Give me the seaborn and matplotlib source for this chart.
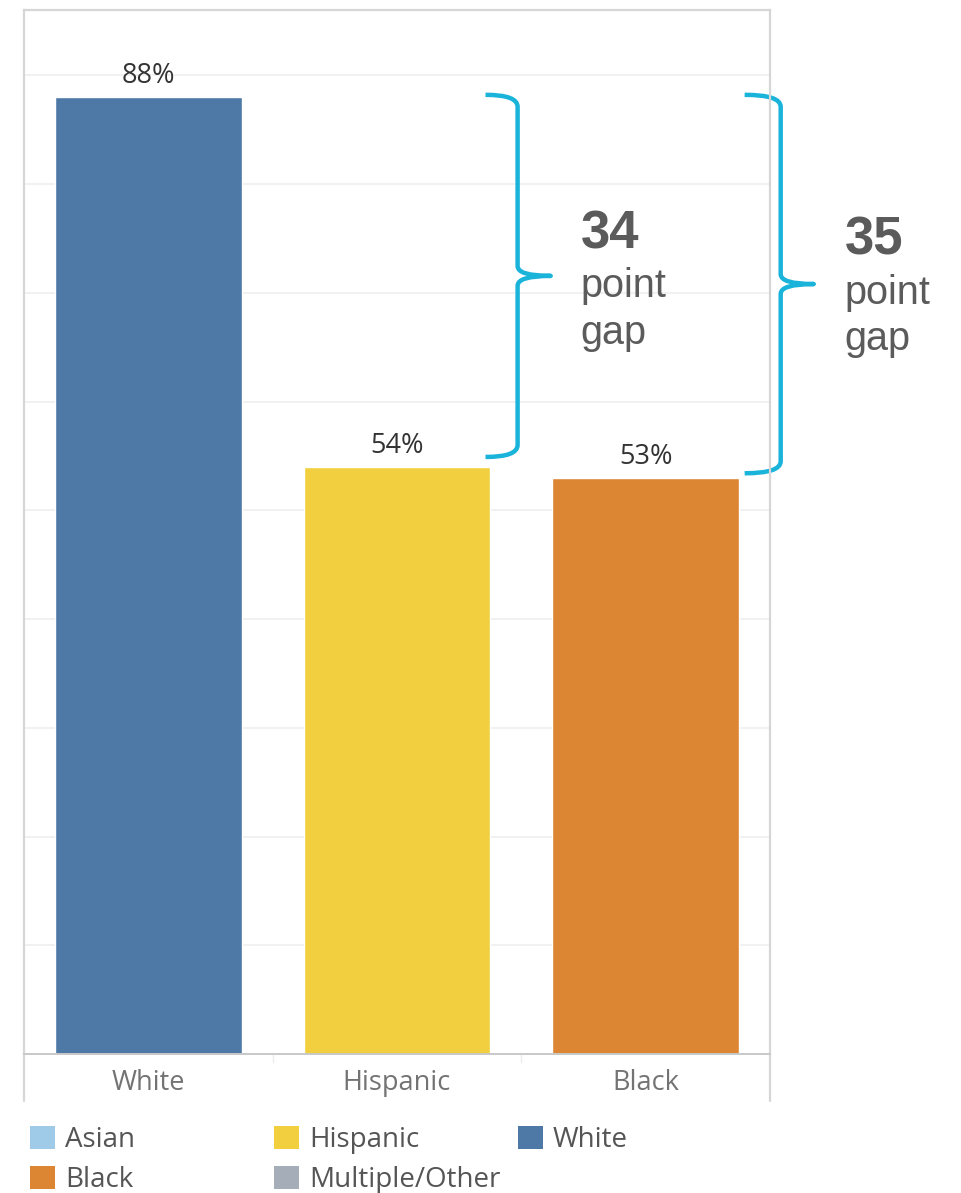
import matplotlib.pyplot as plt
import matplotlib.transforms as mtransforms
import pandas as pd
import seaborn as sns
from matplotlib.lines import Line2D
from matplotlib.patches import Patch, PathPatch
from matplotlib.path import Path

# data
groups = ["White", "Hispanic", "Black"]
values = [88, 54, 53]
legend_groups = ["Asian", "Black", "Hispanic", "Multiple/Other", "White"]
group_colors = ["#a0cbe8", "#dc8633", "#f1cf3f", "#a5adb9", "#4e79a7"]

palette = dict(zip(legend_groups, group_colors))
TEXT_FONT = ["Open Sans", "DejaVu Sans"]
NOTE_FONT = ["Liberation Sans", "DejaVu Sans"]
BRACE_COLOR = "#1ab3da"
FRAME_COLOR = "#d6d6d6"


def draw_brace(ax, x_end, x_spine, x_tip, y_top, y_bot, r_end, r_mid):
    y_mid = (y_top + y_bot) / 2
    verts = [
        (x_end, y_top),
        (x_spine, y_top), (x_spine, y_top - r_end),
        (x_spine, y_mid + r_mid),
        (x_spine, y_mid), (x_tip, y_mid),
        (x_spine, y_mid), (x_spine, y_mid - r_mid),
        (x_spine, y_bot + r_end),
        (x_spine, y_bot), (x_end, y_bot),
    ]
    codes = [
        Path.MOVETO,
        Path.CURVE3, Path.CURVE3,
        Path.LINETO,
        Path.CURVE3, Path.CURVE3,
        Path.CURVE3, Path.CURVE3,
        Path.LINETO,
        Path.CURVE3, Path.CURVE3,
    ]
    patch = PathPatch(Path(verts, codes), fill=False, edgecolor=BRACE_COLOR,
                      lw=3.2, capstyle="butt", joinstyle="round", clip_on=False)
    ax.add_patch(patch)


def gap_note(ax, x, y, gap):
    ax.text(x, y, f"{gap}", fontsize=38, fontweight="bold", color="#5b5b5b",
            family=NOTE_FONT, ha="left", va="baseline")
    ax.text(x, y - 4.5, "point", fontsize=28.5, color="#5b5b5b",
            family=NOTE_FONT, ha="left", va="baseline")
    ax.text(x, y - 8.8, "gap", fontsize=28.5, color="#5b5b5b",
            family=NOTE_FONT, ha="left", va="baseline")


sns.set_style("white")
plt.rcParams["font.family"] = TEXT_FONT

df = pd.DataFrame({"group": groups, "value": values})

fig = plt.figure(figsize=(9.62, 11.93), dpi=100)
ax = fig.add_axes([24 / 962, 1 - 1054 / 1193, 746 / 962, 1044 / 1193])

sns.barplot(data=df, x="group", y="value", hue="group", palette=palette,
            width=0.75, legend=False, saturation=1, ax=ax)

ax.set_xlim(-0.5, 2.5)
ax.set_ylim(0, 96)
ax.set_yticks(range(10, 100, 10))
ax.yaxis.grid(True, color="#f0f0f0", lw=1.3)
ax.set_axisbelow(True)
ax.tick_params(axis="y", left=False, labelleft=False)
ax.tick_params(axis="x", length=0, pad=11, labelsize=19.5, labelcolor="#737373")
ax.set_xlabel("")
ax.set_ylabel("")

for side in ["left", "right", "top"]:
    ax.spines[side].set_color(FRAME_COLOR)
    ax.spines[side].set_linewidth(1.6)
ax.spines["bottom"].set_color("#c8c8c8")
ax.spines["bottom"].set_linewidth(1.4)

# frame continues around the category labels
for x in [0, 1]:
    ax.add_line(Line2D([x, x], [0, -0.045], transform=ax.transAxes,
                       color=FRAME_COLOR, lw=1.6, clip_on=False))
blend = mtransforms.blended_transform_factory(ax.transData, ax.transAxes)
for x in [0.5, 1.5]:
    ax.add_line(Line2D([x, x], [0, -0.008], transform=blend,
                       color="#ececec", lw=1.0, clip_on=False))

for container, v in zip(ax.containers, values):
    ax.bar_label(container, labels=[f"{v}%"], padding=5, fontsize=19.5,
                 color="#333333")

# gap braces
top = values[0]
draw_brace(ax, 1.356, 1.485, 1.618, top + 0.2, values[1] + 0.9, 1.1, 0.9)
draw_brace(ax, 2.398, 2.543, 2.676, top + 0.2, values[2] + 0.4, 1.1, 0.9)
gap_note(ax, 1.738, 74.1, values[0] - values[1])
gap_note(ax, 2.801, 73.5, values[0] - values[2])

# legend laid out in fixed-width columns
columns = [["Asian", "Black"], ["Hispanic", "Multiple/Other"], ["White"]]
col_x = [30, 274, 518]
for names, x in zip(columns, col_x):
    handles = [Patch(facecolor=palette[n], edgecolor="none") for n in names]
    fig.legend(handles, names, loc="upper left",
               bbox_to_anchor=(x / 962, 1 - 1126 / 1193),
               frameon=False, borderpad=0, borderaxespad=0,
               handlelength=0.9, handleheight=0.9, handletextpad=0.36,
               labelspacing=0.42, fontsize=20, labelcolor="#555555")

fig.savefig("out.png", dpi=100)
